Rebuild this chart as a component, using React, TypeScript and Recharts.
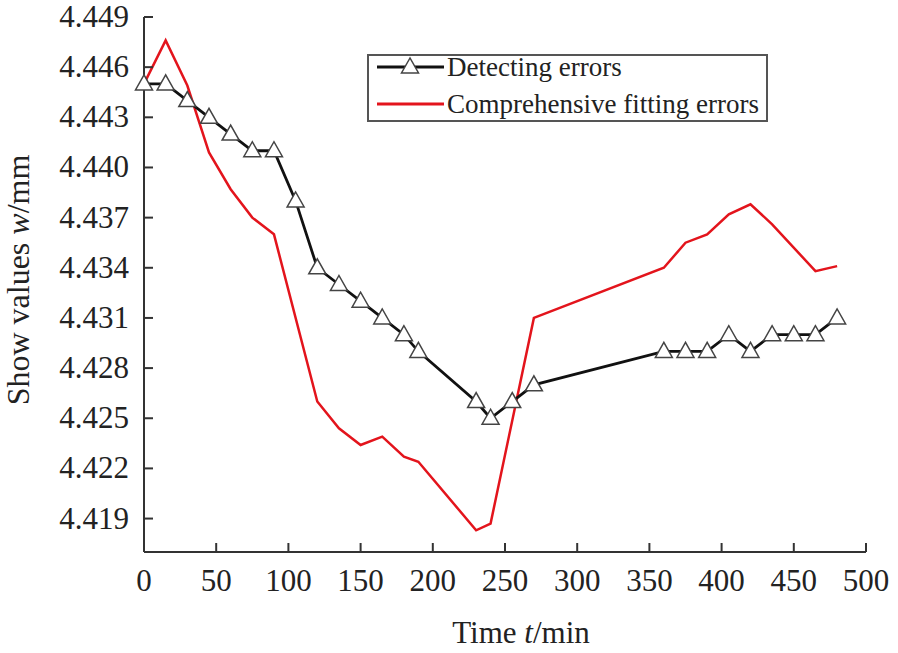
import { LineChart, Line, XAxis, YAxis, Legend } from "recharts"

const detectTimes = [0, 15, 30, 45, 60, 75, 90, 105, 120, 135, 150, 165, 180, 190, 230, 240, 255, 270, 360, 375, 390, 405, 420, 435, 450, 465, 480]
const detectValues = [4.445, 4.445, 4.444, 4.443, 4.442, 4.441, 4.441, 4.438, 4.434, 4.433, 4.432, 4.431, 4.43, 4.429, 4.426, 4.425, 4.426, 4.427, 4.429, 4.429, 4.429, 4.43, 4.429, 4.43, 4.43, 4.43, 4.431]

const fitTimes = [0, 15, 30, 45, 60, 75, 90, 120, 135, 150, 165, 180, 190, 230, 240, 270, 360, 375, 390, 405, 420, 435, 465, 480]
const fitValues = [4.445, 4.4476, 4.4449, 4.4409, 4.4387, 4.437, 4.436, 4.426, 4.4244, 4.4234, 4.4239, 4.4227, 4.4224, 4.4183, 4.4187, 4.431, 4.434, 4.4355, 4.436, 4.4372, 4.4378, 4.4366, 4.4338, 4.4341]

const xTicks = [0, 50, 100, 150, 200, 250, 300, 350, 400, 450, 500]
const yTicks = [4.419, 4.422, 4.425, 4.428, 4.431, 4.434, 4.437, 4.44, 4.443, 4.446, 4.449]

const detectData = detectTimes.map((t, i) => ({ t, v: detectValues[i] }))
const fitData = fitTimes.map((t, i) => ({ t, v: fitValues[i] }))

const FONT = "'Liberation Serif', 'Times New Roman', serif"
const AXIS = "#333"

function YTick(props: any) {
  const { x, y, payload } = props
  return (
    <g>
      <line x1={x} x2={x + 9} y1={y} y2={y} stroke={AXIS} strokeWidth={2} />
      <text x={x - 15} y={y} dy={10} textAnchor="end" fontFamily={FONT} fontSize={31} fill="#222">
        {Number(payload.value).toFixed(3)}
      </text>
    </g>
  )
}

function XTick(props: any) {
  const { x, y, payload } = props
  return (
    <g>
      <line x1={x} x2={x} y1={y} y2={y - 9} stroke={AXIS} strokeWidth={2} />
      <text x={x} y={y + 39} textAnchor="middle" fontFamily={FONT} fontSize={31} fill="#222">
        {payload.value}
      </text>
    </g>
  )
}

function Triangle(props: any) {
  const { cx, cy } = props
  if (cx == null || cy == null) return null
  return (
    <polygon
      points={`${cx},${cy - 9} ${cx - 8.5},${cy + 6} ${cx + 8.5},${cy + 6}`}
      fill="#fff"
      stroke="#444"
      strokeWidth={1.5}
    />
  )
}

function LegendBox() {
  return (
    <svg width={401} height={68} style={{ overflow: "visible", display: "block" }}>
      <rect x={1} y={1} width={399} height={66} fill="#fff" stroke="#555" strokeWidth={2} />
      <line x1={10} x2={77} y1={13} y2={13} stroke="#111" strokeWidth={3} />
      <polygon points="43,4 34.5,19 51.5,19" fill="#fff" stroke="#444" strokeWidth={1.5} />
      <text x={80} y={22} fontFamily={FONT} fontSize={27} fill="#222">Detecting errors</text>
      <line x1={10} x2={77} y1={50} y2={50} stroke="#e3141c" strokeWidth={3} />
      <text x={80} y={59} fontFamily={FONT} fontSize={27} fill="#222">Comprehensive fitting errors</text>
    </svg>
  )
}

function YLabel() {
  return (
    <text
      transform="rotate(-90, 29, 280)"
      x={29}
      y={280}
      textAnchor="middle"
      fontFamily={FONT}
      fontSize={32}
      fill="#222"
    >
      Show values <tspan fontStyle="italic">w</tspan>/mm
    </text>
  )
}

function XLabel() {
  return (
    <text x={521} y={643} textAnchor="middle" fontFamily={FONT} fontSize={31} fill="#222">
      Time <tspan fontStyle="italic">t</tspan>/min
    </text>
  )
}

export default function App() {
  return (
    <div style={{ position: "absolute", left: 0, top: 0, width: 898, height: 653, background: "#fff" }}>
      <LineChart width={898} height={653} margin={{ top: 17, right: 32, bottom: 0, left: 0 }}>
        <XAxis
          type="number"
          dataKey="t"
          domain={[0, 500]}
          ticks={xTicks}
          height={101}
          tickSize={0}
          tickMargin={0}
          tickLine={false}
          tick={<XTick />}
          axisLine={{ stroke: AXIS, strokeWidth: 2 }}
          label={<XLabel />}
          allowDuplicatedCategory={false}
        />
        <YAxis
          type="number"
          dataKey="v"
          domain={[4.417, 4.449]}
          ticks={yTicks}
          width={144}
          tickSize={0}
          tickMargin={0}
          tickLine={false}
          tick={<YTick />}
          axisLine={{ stroke: AXIS, strokeWidth: 2 }}
          label={<YLabel />}
          allowDataOverflow
        />
        <Legend
          layout="vertical"
          align="center"
          verticalAlign="middle"
          wrapperStyle={{ left: 367, top: 54, width: 401, height: 68 }}
          content={<LegendBox />}
        />
        <Line
          data={fitData}
          dataKey="v"
          name="Comprehensive fitting errors"
          type="linear"
          stroke="#e3141c"
          strokeWidth={2.5}
          dot={false}
          isAnimationActive={false}
        />
        <Line
          data={detectData}
          dataKey="v"
          name="Detecting errors"
          type="linear"
          stroke="#111"
          strokeWidth={2.8}
          dot={<Triangle />}
          isAnimationActive={false}
        />
      </LineChart>
    </div>
  )
}
